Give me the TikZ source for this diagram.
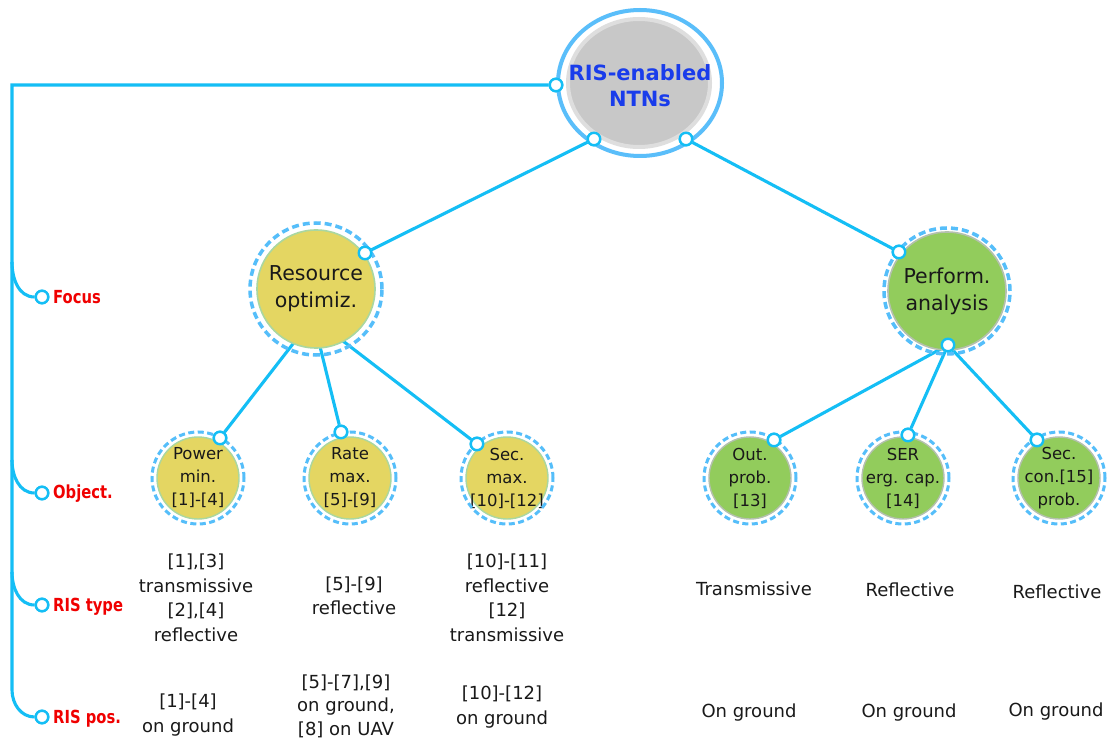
\documentclass[tikz,border=0pt]{standalone}
\usepackage{fontspec}
\setmainfont{DejaVu Sans}
\newfontfamily\sidefont{DejaVu Sans}[FakeStretch=0.82]
\usetikzlibrary{shapes.geometric}
\definecolor{lnc}{RGB}{20,190,245}
\definecolor{dsh}{RGB}{85,190,250}
\definecolor{yel}{RGB}{228,214,98}
\definecolor{grn}{RGB}{146,204,92}
\definecolor{yelrim}{RGB}{170,215,160}
\definecolor{grnrim}{RGB}{180,192,175}
\definecolor{rootblue}{RGB}{25,60,235}
\definecolor{redlab}{RGB}{240,0,0}
\definecolor{ringblue}{RGB}{90,190,250}
\definecolor{rootfill}{RGB}{200,200,200}
\definecolor{rootrim}{RGB}{222,222,222}
\begin{document}
\begin{tikzpicture}[x=1pt,y=-1pt,
 conn/.style={draw=lnc,line width=3.1pt},
 port/.style={circle,draw=lnc,fill=white,line width=2.4pt,inner sep=0pt,minimum size=12.5pt},
 bigc/.style={circle,inner sep=0pt,minimum size=118pt,line width=1.6pt,font=\fontsize{20.5}{27}\selectfont,align=center,text=black!90},
 smallc/.style={circle,inner sep=0pt,minimum size=82pt,line width=1.4pt},
 smalltxt/.style={font=\fontsize{16.5}{23}\selectfont,align=center,text=black!90},
 ring/.style={draw=dsh,line width=3.5pt,dash pattern=on 7pt off 4pt},
 lab/.style={font=\fontsize{18}{24.5}\selectfont,align=center,text=black!90},
 side/.style={font=\sidefont\bfseries\fontsize{18}{20}\selectfont,text=redlab,anchor=west,inner sep=0pt}]
\useasboundingbox[fill=white] (0,0) rectangle (1109,743);

% coordinates for hidden line starts
\coordinate (rb) at (313,318);
\coordinate (tl) at (12,85);
\coordinate (tb) at (12,690);
\coordinate (b1) at (12,262);
\coordinate (b2) at (12,460);
\coordinate (b3) at (12,572);

% ports
\node[port] (rL) at (556,85) {};
\node[port] (rA) at (594,139) {};
\node[port] (rB) at (686,139) {};
\node[port] (resP) at (365,253) {};
\node[port] (perP) at (899,252) {};
\node[port] (perB) at (948,345) {};
\node[port] (pwP) at (220,438) {};
\node[port] (raP) at (341,432) {};
\node[port] (smP) at (477,444) {};
\node[port] (opP) at (774,440) {};
\node[port] (seP) at (908,435) {};
\node[port] (scP) at (1037,440) {};
\node[port] (pp1) at (42,297) {};
\node[port] (pp2) at (42,493) {};
\node[port] (pp3) at (42,605) {};
\node[port] (pp4) at (42,717) {};

% connectors
\draw[conn] (rL) -- (tl) -- (tb) to[out=-90,in=180] (pp4);
\draw[conn] (b1) to[out=-90,in=180] (pp1);
\draw[conn] (b2) to[out=-90,in=180] (pp2);
\draw[conn] (b3) to[out=-90,in=180] (pp3);
\draw[conn] (rA) -- (resP);
\draw[conn] (rB) -- (perP);
\draw[conn] (rb) -- (pwP);
\draw[conn] (rb) -- (raP);
\draw[conn] (rb) -- (smP);
\draw[conn] (perB) -- (opP);
\draw[conn] (perB) -- (seP);
\draw[conn] (perB) -- (scP);

% root
\node[ellipse,fill=rootfill,draw=rootrim,line width=4pt,minimum width=142pt,minimum height=128pt,inner sep=0pt] (root) at (639,83) {};
\draw[draw=ringblue,line width=4pt] (root.center) ++(1,0) ellipse[x radius=82pt,y radius=73pt];
\node[font=\bfseries\fontsize{21}{26}\selectfont,text=rootblue,align=center] (roottxt) at (640,86) {RIS-enabled\\NTNs};

% level 1
\node[bigc,fill=yel,draw=yelrim] (res) at (316,289) {Resource\\optimiz.};
\draw[ring] (res.center) circle[radius=66pt];
\node[bigc,fill=grn,draw=grnrim] (per) at (947,291) {Perform.\\analysis};
\draw[ring] (per.center) circle[radius=63pt];

% level 2
\node[smallc,fill=yel,draw=yelrim,label={[smalltxt]center:Power\\min.\\{[1]-[4]}}] (pw) at (198,478) {};
\node[smallc,fill=yel,draw=yelrim,label={[smalltxt]center:Rate\\max.\\{[5]-[9]}}] (ra) at (350,478) {};
\node[smallc,fill=yel,draw=yelrim,label={[smalltxt]center:Sec.\\max.\\{[10]-[12]}}] (sm) at (507,478) {};
\node[smallc,fill=grn,draw=grnrim,label={[smalltxt]center:Out.\\prob.\\{[13]}}] (op) at (750,478) {};
\node[smallc,fill=grn,draw=grnrim,label={[smalltxt]center:SER\\erg. cap.\\{[14]}}] (se) at (903,478) {};
\node[smallc,fill=grn,draw=grnrim,label={[smalltxt]center:Sec.\\con.[15]\\prob.}] (sc) at (1059,478) {};
\foreach \n in {pw,ra,sm,op,se,sc}{\draw[ring,line width=3pt,dash pattern=on 6pt off 3.5pt] (\n.center) circle[radius=46pt];}

% redraw ports on top
\foreach \p in {rL,rA,rB,resP,perP,perB,pwP,raP,smP,opP,seP,scP,pp1,pp2,pp3,pp4}{\node[port] at (\p) {};}

% side labels
\node[side] (sl1) at (53,297) {Focus};
\node[side] (sl2) at (53,494) {Object.};
\node[side] (sl3) at (53,607) {RIS type};
\node[side] (sl4) at (53,719) {RIS pos.};

% RIS type row
\node[lab] (t1) at (196,598) {{[1],[3]}\\transmissive\\{[2],[4]}\\reflective};
\node[lab] (t2) at (354,596) {{[5]-[9]}\\reflective};
\node[lab] (t3) at (507,598) {{[10]-[11]}\\reflective\\{[12]}\\transmissive};
\node[lab] (t4) at (754,589) {Transmissive};
\node[lab] (t5) at (910,590) {Reflective};
\node[lab] (t6) at (1057,592) {Reflective};

% RIS pos row
\node[lab] (q1) at (188,715) {{[1]-[4]}\\on ground};
\node[lab,font=\fontsize{18}{23.5}\selectfont] (q2) at (346,706) {{[5]-[7],[9]}\\on ground,\\{[8]} on UAV};
\node[lab] (q3) at (502,707) {{[10]-[12]}\\on ground};
\node[lab] (q4) at (749,713) {On ground};
\node[lab] (q5) at (909,713) {On ground};
\node[lab] (q6) at (1056,712) {On ground};
\end{tikzpicture}
\end{document}
